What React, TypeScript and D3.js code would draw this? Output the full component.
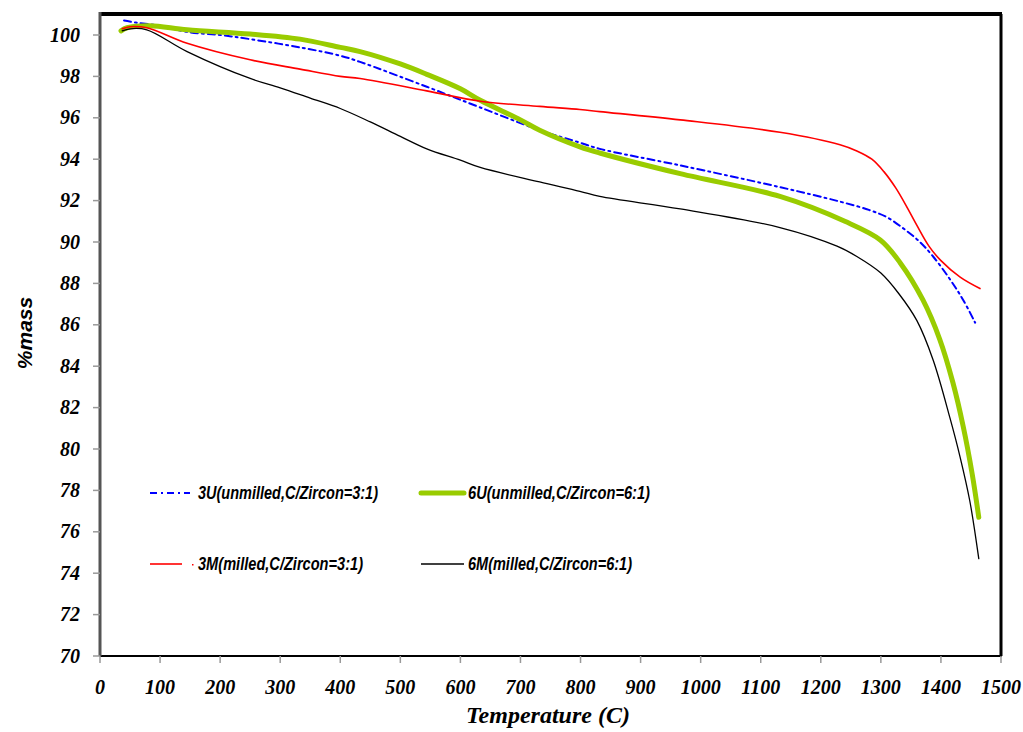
import React from "react";
import * as d3 from "d3";

const yTicks = [70, 72, 74, 76, 78, 80, 82, 84, 86, 88, 90, 92, 94, 96, 98, 100];
const xTicks = [0, 100, 200, 300, 400, 500, 600, 700, 800, 900, 1000, 1100, 1200, 1300, 1400, 1500];

const s3U: [number, number][] = [
  [40, 100.7], [60, 100.6], [100, 100.45], [145, 100.15], [200, 100.0], [250, 99.8], [333, 99.4],
  [400, 99.0], [433, 98.7], [544, 97.5], [633, 96.5], [732, 95.4], [799, 94.8], [832, 94.5],
  [966, 93.7], [1132, 92.65], [1232, 91.95], [1280, 91.55], [1310, 91.2], [1340, 90.6], [1365, 90.0],
  [1387, 89.3], [1415, 88.2], [1437, 87.2], [1457, 86.1],
];
const s6U: [number, number][] = [
  [35, 100.2], [45, 100.35], [83, 100.45], [145, 100.25], [250, 100.05], [333, 99.8], [400, 99.4],
  [433, 99.2], [500, 98.6], [544, 98.1], [600, 97.4], [633, 96.85], [700, 95.9], [732, 95.4],
  [799, 94.6], [832, 94.3], [966, 93.3], [1132, 92.2], [1240, 91.0], [1299, 90.1], [1332, 89.0],
  [1370, 87.2], [1398, 85.3], [1420, 83.2], [1437, 81.1], [1452, 78.8], [1463, 76.7],
];
const s3M: [number, number][] = [
  [37, 100.3], [50, 100.4], [78, 100.35], [145, 99.6], [250, 98.8], [333, 98.35], [400, 98.0],
  [433, 97.9], [544, 97.3], [633, 96.8], [732, 96.55], [799, 96.4], [832, 96.3], [966, 95.9],
  [1132, 95.3], [1232, 94.7], [1260, 94.4], [1285, 94.0], [1305, 93.4], [1325, 92.6], [1345, 91.6],
  [1360, 90.8], [1380, 89.8], [1400, 89.1], [1432, 88.3], [1465, 87.75],
];
const s6M: [number, number][] = [
  [37, 100.2], [50, 100.3], [78, 100.25], [145, 99.2], [250, 97.9], [300, 97.45], [350, 96.95],
  [400, 96.45], [450, 95.8], [500, 95.1], [544, 94.5], [600, 93.95], [633, 93.6], [732, 92.9],
  [799, 92.45], [832, 92.2], [966, 91.6], [1132, 90.7], [1227, 89.8], [1260, 89.3], [1300, 88.5],
  [1330, 87.5], [1360, 86.2], [1387, 84.3], [1415, 81.5], [1432, 79.6], [1448, 77.5], [1463, 74.7],
];

const seriesNames = [
  "3U(unmilled,C/Zircon=3:1)",
  "6U(unmilled,C/Zircon=6:1)",
  "3M(milled,C/Zircon=3:1)",
  "6M(milled,C/Zircon=6:1)",
];

export default function App() {
  const left = 100, right = 1001, top = 14, bottom = 656;
  const x = d3.scaleLinear().domain([0, 1500]).range([left, right]);
  const y = d3.scaleLinear().domain([70, 100]).range([bottom, 35]);
  const line = d3
    .line<[number, number]>()
    .x((d) => x(d[0]))
    .y((d) => y(d[1]))
    .curve(d3.curveCatmullRom.alpha(0.5));

  const serif = "Liberation Serif, Times New Roman, serif";
  const sans = "Liberation Sans, Arial, sans-serif";
  const serifStyle = { fontFamily: serif, fontStyle: "italic", fontWeight: "bold" } as React.CSSProperties;
  const sansStyle = { fontFamily: sans, fontStyle: "italic", fontWeight: "bold" } as React.CSSProperties;

  const styles = [
    { data: s3U, stroke: "#0000ff", width: 2, dash: "7 4 2 4" },
    { data: s6U, stroke: "#99cc00", width: 5, dash: undefined },
    { data: s3M, stroke: "#ff0000", width: 1.6, dash: undefined },
    { data: s6M, stroke: "#000000", width: 1.3, dash: undefined },
  ];

  const legend = [
    { x1: 150, x2: 190, tx: 198, tw: 180, y: 493 },
    { x1: 421, x2: 464, tx: 468, tw: 182, y: 493 },
    { x1: 150, x2: 182, tx: 198, tw: 165, y: 564 },
    { x1: 421, x2: 464, tx: 468, tw: 164, y: 564 },
  ];

  return (
    <svg
      width={1023}
      height={732}
      style={{ position: "absolute", left: 0, top: 0, background: "#fff" }}
    >
      <rect x={0} y={0} width={1023} height={732} fill="#fff" />
      {styles.map((s, i) => (
        <path
          key={i}
          d={line(s.data) || ""}
          fill="none"
          stroke={s.stroke}
          strokeWidth={s.width}
          strokeDasharray={s.dash}
          strokeLinecap="round"
          strokeLinejoin="round"
        />
      ))}
      <line x1={left} x2={right + 1} y1={top} y2={top} stroke="#000" strokeWidth={4} />
      <line x1={right} x2={right} y1={top} y2={bottom} stroke="#000" strokeWidth={3} />
      <line x1={left} x2={right + 1} y1={bottom} y2={bottom} stroke="#000" strokeWidth={2} />
      <line x1={left} x2={left} y1={top - 2} y2={bottom} stroke="#555" strokeWidth={3} />
      {yTicks.map((t) => (
        <g key={t}>
          <line x1={left - 7} x2={left} y1={y(t)} y2={y(t)} stroke="#999" strokeWidth={1.5} />
          <text x={80} y={y(t)} dy="0.33em" textAnchor="end" style={serifStyle} fontSize={20} fill="#000">
            {t}
          </text>
        </g>
      ))}
      {xTicks.map((t) => (
        <g key={t}>
          <line x1={x(t)} x2={x(t)} y1={bottom} y2={bottom + 7} stroke="#999" strokeWidth={1.5} />
          <text x={x(t)} y={694} textAnchor="middle" style={serifStyle} fontSize={20} fill="#000">
            {t}
          </text>
        </g>
      ))}
      <text x={548} y={723} textAnchor="middle" style={serifStyle} fontSize={24}>
        Temperature (C)
      </text>
      <text transform="translate(32,333) rotate(-90)" textAnchor="middle" style={sansStyle} fontSize={21}>
        %mass
      </text>
      {legend.map((l, i) => (
        <g key={i}>
          <line
            x1={l.x1}
            x2={l.x2}
            y1={l.y}
            y2={l.y}
            stroke={styles[i].stroke}
            strokeWidth={styles[i].width}
            strokeDasharray={styles[i].dash}
            strokeLinecap={i === 1 ? "round" : "butt"}
          />
          {i === 2 && <rect x={192} y={l.y} width={1.5} height={1.5} fill="#ff0000" />}
          <text
            x={l.tx}
            y={l.y + 6}
            style={sansStyle}
            fontSize={19}
            textLength={l.tw}
            lengthAdjust="spacingAndGlyphs"
            fill="#000"
          >
            {seriesNames[i]}
          </text>
        </g>
      ))}
    </svg>
  );
}
